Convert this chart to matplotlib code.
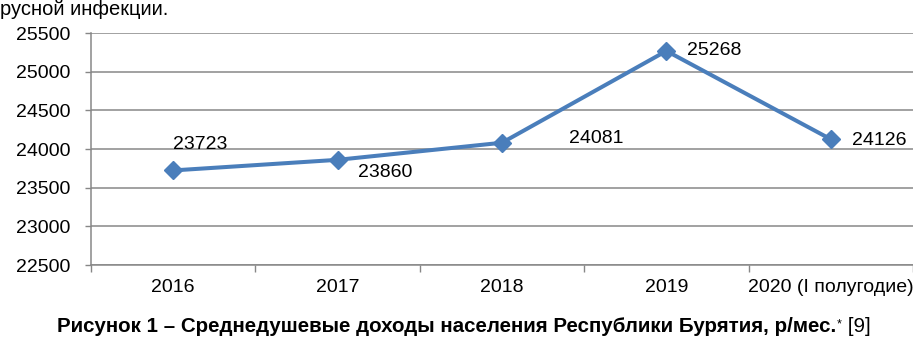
import matplotlib
matplotlib.use("Agg")
import matplotlib.pyplot as plt
import numpy as np

plt.rcParams["font.family"] = ["Liberation Sans", "DejaVu Sans"]

categories = ["2016", "2017", "2018", "2019", "2020 (I полугодие)"]
incomes = [23723, 23860, 24081, 25268, 24126]
yticks = [22500, 23000, 23500, 24000, 24500, 25000, 25500]
# label offsets in points (dx, dy) relative to each marker
label_offsets = [(0, 19), (15, -9), (48, 3), (15, 0), (15, -1)]

line_color = "#4A7EBB"
grid_color = "#878787"
fs = 14

fig = plt.figure(figsize=(9.13, 3.43), dpi=100)
ax = fig.add_axes([91 / 913, 1 - 265 / 343, 822 / 913, 232 / 343])

x = np.arange(len(categories))
ax.plot(x, incomes, color=line_color, linewidth=2.9, marker="D", markersize=9, zorder=3, clip_on=False)

for xi, val, (dx, dy) in zip(x, incomes, label_offsets):
    ax.annotate(str(val), (xi, val), xytext=(dx, dy), textcoords="offset points",
                ha="left", va="center", fontsize=fs, color="black", zorder=4)

ax.set_xlim(-0.5, len(categories) - 0.5)
ax.set_ylim(yticks[0], yticks[-1])
ax.set_yticks(yticks)
ax.set_yticklabels([str(v) for v in yticks], fontsize=fs)
ax.set_xticks(x)
ax.set_xticklabels(categories, fontsize=fs)
ax.set_xticks(np.arange(-0.5, len(categories)), minor=True)

ax.tick_params(axis="x", which="major", length=0, pad=10)
ax.tick_params(axis="x", which="minor", length=5, width=1, color=grid_color, direction="out")
ax.tick_params(axis="y", length=4, width=1, color=grid_color, pad=11)

ax.yaxis.grid(True, color=grid_color, linewidth=1.1)
ax.set_axisbelow(True)
for side in ["top", "right"]:
    ax.spines[side].set_visible(False)
for side in ["left", "bottom"]:
    ax.spines[side].set_color(grid_color)
    ax.spines[side].set_linewidth(1.1)

# fragment of the preceding paragraph
fig.text(0, 1 - 15 / 343, "русной инфекции.", fontsize=14.5, ha="left", va="baseline")

# caption: bold part, small asterisk, regular reference
fig.canvas.draw()
renderer = fig.canvas.get_renderer()
cap_y = 1 - 332 / 343
t1 = fig.text(57 / 913, cap_y, "Рисунок 1 – Среднедушевые доходы населения Республики Бурятия, р/мес.",
              fontsize=14.8, fontweight="bold", ha="left", va="baseline")
bb = t1.get_window_extent(renderer)
t2 = fig.text(bb.x1 / 913 + 0.001, cap_y + 5 / 343, "*", fontsize=9, ha="left", va="baseline")
bb2 = t2.get_window_extent(renderer)
fig.text(bb2.x1 / 913, cap_y, " [9]", fontsize=14.8, ha="left", va="baseline")

fig.savefig("out.png", dpi=100)
